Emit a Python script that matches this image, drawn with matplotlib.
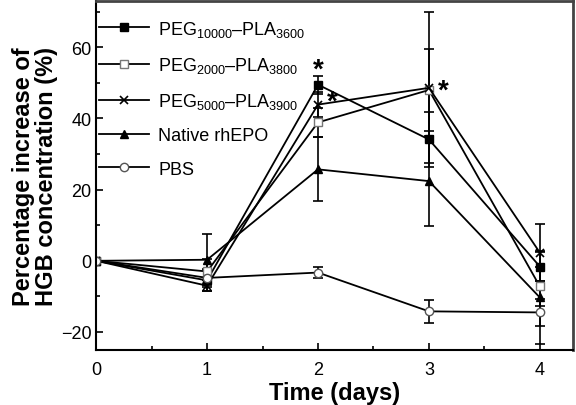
import matplotlib.pyplot as plt
from matplotlib.lines import Line2D
from matplotlib.ticker import MultipleLocator

plt.rcParams["font.family"] = ["Liberation Sans", "DejaVu Sans"]
plt.rcParams["mathtext.fontset"] = "custom"
plt.rcParams["mathtext.rm"] = "Liberation Sans"
plt.rcParams["mathtext.it"] = "Liberation Sans"
plt.rcParams["mathtext.bf"] = "Liberation Sans:bold"

days = [0, 1, 2, 3, 4]

peg10000 = [0, -5.5, 49.5, 34.1, -1.6]
peg10000_err = [0, 3.0, 2.5, 7.7, 4.0]

peg2000 = [0, -3.0, 38.9, 48.0, -7.2]
peg2000_err = [0, 3.5, 4.0, 11.5, 5.5]

peg5000 = [0, -7.0, 43.9, 48.6, 2.3]
peg5000_err = [0, 1.5, 3.5, 21.2, 8.0]

native = [0, 0.3, 25.7, 22.4, -10.3]
native_err = [0, 7.2, 9.0, 12.6, 13.0]

pbs = [0, -4.8, -3.3, -14.2, -14.5]
pbs_err = [0, 2.5, 1.5, 3.2, 3.7]

labels = [
    r"PEG$_{10000}$–PLA$_{3600}$",
    r"PEG$_{2000}$–PLA$_{3800}$",
    r"PEG$_{5000}$–PLA$_{3900}$",
    "Native rhEPO",
    "PBS",
]

fig = plt.figure(figsize=(5.76, 4.06), dpi=100)
ax = fig.add_axes([0.167, 0.136, 0.828, 0.859])

style = dict(color="black", lw=1.3, capsize=3.5, elinewidth=1.2, capthick=1.2, ms=6)
marks = [
    dict(marker="s", mfc="black"),
    dict(marker="s", mfc="white", mec="#777777"),
    dict(marker="x", mew=1.2),
    dict(marker="^", mfc="black"),
    dict(marker="o", mfc="white", mec="#555555"),
]
series = [(peg10000, peg10000_err), (peg2000, peg2000_err), (peg5000, peg5000_err),
          (native, native_err), (pbs, pbs_err)]

handles = []
for (vals, err), m, lab in zip(series, marks, labels):
    ax.errorbar(days, vals, yerr=err, **m, **style)
    handles.append(Line2D([], [], color="black", lw=1.3, ms=6, label=lab, **m))

# significance stars
star = dict(textcoords="offset points", ha="center", va="center", fontsize=20, fontweight="bold")
ax.annotate("*", xy=(days[2], peg10000[2]), xytext=(0, 11), **star)
ax.annotate("*", xy=(days[2], peg5000[2]), xytext=(10, 2), **star)
ax.annotate("*", xy=(days[3], peg5000[3]), xytext=(10, -2), **star)

ax.set_xlim(0, 4.3)
ax.set_ylim(-25, 73)
ax.set_xticks(days)
ax.set_yticks([-20, 0, 20, 40, 60])
ax.xaxis.set_minor_locator(MultipleLocator(0.5))
ax.yaxis.set_minor_locator(MultipleLocator(10))
ax.tick_params(which="both", direction="in", labelsize=13, width=1.2)
ax.tick_params(which="major", length=5)
ax.tick_params(which="minor", length=3)
ax.tick_params(axis="x", pad=8)
for s in ax.spines.values():
    s.set_linewidth(1.5)
for s in ("top", "right"):
    ax.spines[s].set_color("#444444")
    ax.spines[s].set_linewidth(2)

ax.set_xlabel("Time (days)", fontsize=17, fontweight="bold", labelpad=2)
ax.set_ylabel("Percentage increase of\nHGB concentration (%)", fontsize=17, fontweight="bold",
              linespacing=1.0, labelpad=2)

ax.legend(handles=handles, loc="upper left", bbox_to_anchor=(-0.01, 0.97), frameon=False,
          fontsize=13, handlelength=2.8, handletextpad=0.5, labelspacing=0.9,
          borderaxespad=0.0)

fig.savefig("out.png", dpi=100)
